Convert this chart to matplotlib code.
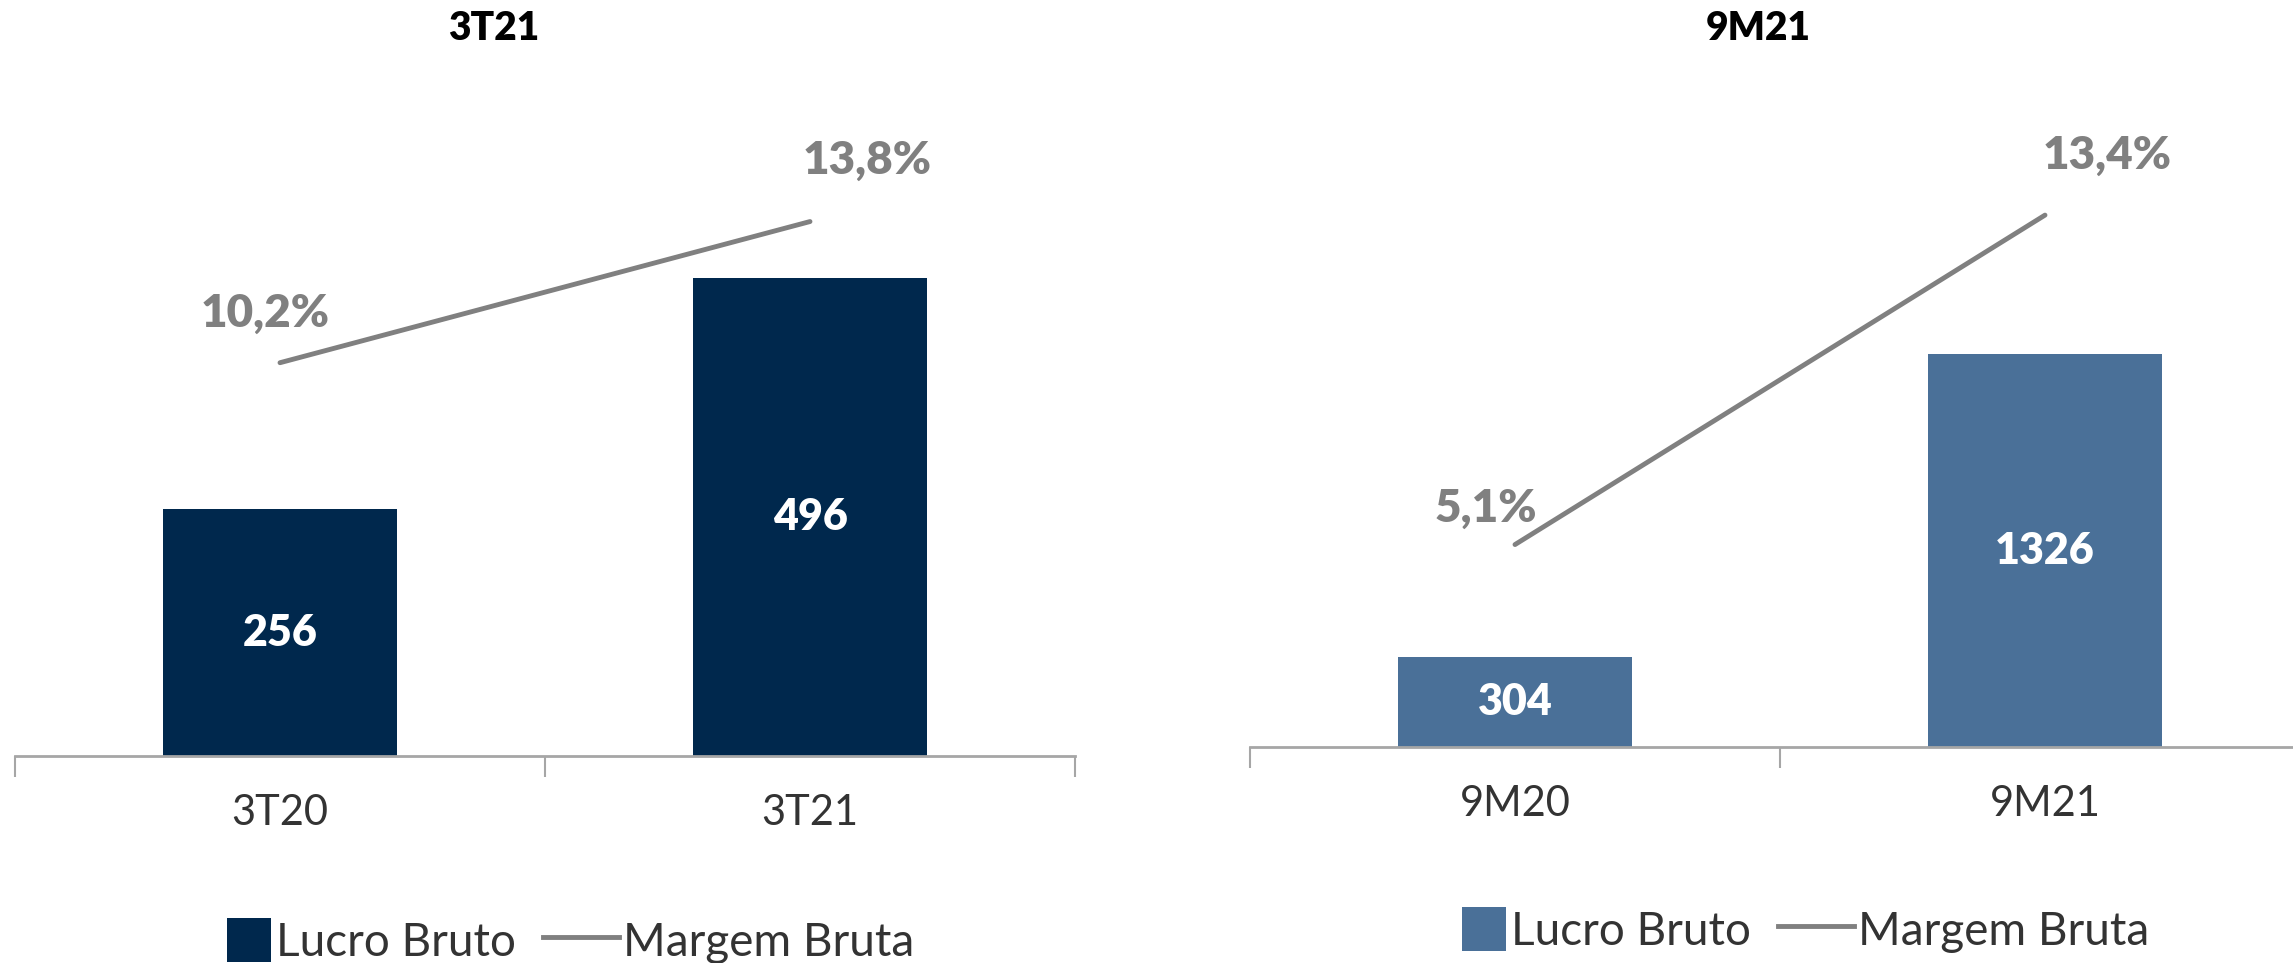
import matplotlib
matplotlib.use('Agg')
import matplotlib.pyplot as plt
from matplotlib.patches import Patch, Rectangle
from matplotlib.lines import Line2D
from matplotlib.legend_handler import HandlerPatch

plt.rcParams['font.family'] = ['Lato', 'DejaVu Sans']

# data
panel_titles = ['3T21', '9M21']
left_cats = ['3T20', '3T21']
left_lucro = [256, 496]
left_margem = [10.2, 13.8]
left_margem_labels = ['10,2%', '13,8%']

right_cats = ['9M20', '9M21']
right_lucro = [304, 1326]
right_margem = [5.1, 13.4]
right_margem_labels = ['5,1%', '13,4%']

legend_labels = ['Lucro Bruto', 'Margem Bruta']

W, H = 2293, 963
fig = plt.figure(figsize=(W / 100, H / 100), dpi=100)

GRAY_LINE = '#808080'
AXIS_COL = '#A6A6A6'
TXT = '#333333'


def px_axes(x0, x1, ybase, ytop):
    return fig.add_axes([x0 / W, (H - ybase) / H, (x1 - x0) / W, (ybase - ytop) / H])


def draw_panel(ax, cats, lucro, margem, mlabels, color, ylim1, ylim2, offsets):
    x = list(range(len(cats)))
    bars = ax.bar(x, lucro, width=0.44, color=color, zorder=2)
    ax.bar_label(bars, labels=[str(v) for v in lucro], label_type='center',
                 color='white', fontsize=31, fontweight='heavy')
    ax.set_xlim(-0.5, len(cats) - 0.5)
    ax.set_ylim(*ylim1)
    for s in ['top', 'right', 'left']:
        ax.spines[s].set_visible(False)
    ax.spines['bottom'].set_color(AXIS_COL)
    ax.spines['bottom'].set_linewidth(2)
    ax.set_yticks([])
    ax.set_xticks(x)
    ax.set_xticklabels(cats, fontsize=30, color=TXT)
    ax.tick_params(axis='x', which='major', length=0, pad=27)
    ax.set_xticks([i - 0.5 for i in range(len(cats) + 1)], minor=True)
    ax.tick_params(axis='x', which='minor', length=15, width=1.5, color=AXIS_COL, direction='out')

    ax2 = ax.twinx()
    ax2.plot(x, margem, color=GRAY_LINE, linewidth=3.5, solid_capstyle='round', zorder=3)
    ax2.set_ylim(*ylim2)
    ax2.axis('off')
    for xi, yi, lab, off in zip(x, margem, mlabels, offsets):
        ax2.annotate(lab, (xi, yi), xytext=off, textcoords='offset pixels',
                     ha='center', va='center', fontsize=33, fontweight='heavy', color=GRAY_LINE)
    return ax2


ax_l = px_axes(15, 1075, 756, 100)
draw_panel(ax_l, left_cats, left_lucro, left_margem, left_margem_labels, '#00284D',
           (0, 680), (0.17, 16.9), [(-15, 49), (57, 61)])

ax_r = px_axes(1250, 2310, 747, 100)
draw_panel(ax_r, right_cats, right_lucro, right_margem, right_margem_labels, '#4A7098',
           (0, 2184), (0.0, 16.3), [(-29, 36), (62, 60)])

fig.text(494 / W, 1 - 29 / H, panel_titles[0], ha='center', va='center',
         fontsize=28, fontweight='heavy', color='black')
fig.text(1758 / W, 1 - 29 / H, panel_titles[1], ha='center', va='center',
         fontsize=28, fontweight='heavy', color='black')


def square_patch(legend, orig_handle, xdescent, ydescent, width, height, fontsize):
    return Rectangle((-xdescent + width - height, -ydescent), height, height)


def add_legend(ax, color, cx, cy):
    handles = [Patch(facecolor=color, edgecolor='none'),
               Line2D([], [], color=GRAY_LINE, linewidth=3.5)]
    ax.legend(handles, legend_labels, loc='center', bbox_to_anchor=(cx / W, 1 - cy / H),
              bbox_transform=fig.transFigure, ncol=2, frameon=False, fontsize=33,
              handlelength=1.65, handleheight=1.1, handletextpad=0.1, columnspacing=0.6,
              labelcolor=TXT, handler_map={Patch: HandlerPatch(patch_func=square_patch)})


add_legend(ax_l, '#00284D', 555, 941)
add_legend(ax_r, '#4A7098', 1790, 930)

fig.savefig('out.png', dpi=100)
